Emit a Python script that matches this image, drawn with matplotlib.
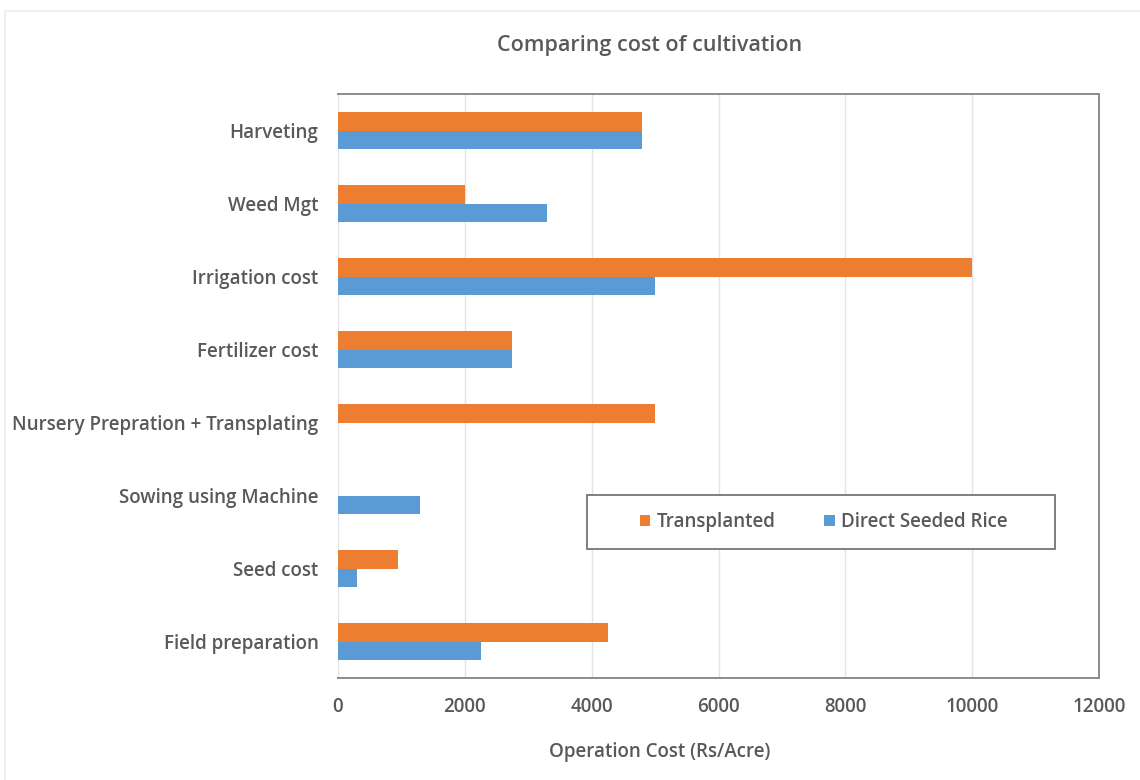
import matplotlib
matplotlib.use("Agg")
import matplotlib.pyplot as plt
import numpy as np
from matplotlib.lines import Line2D
from matplotlib.patches import Rectangle

categories = ["Field preparation", "Seed cost", "Sowing using Machine",
              "Nursery Prepration + Transplating", "Fertilizer cost",
              "Irrigation cost", "Weed Mgt", "Harveting"]
transplanted = [4250, 950, 0, 5000, 2750, 10000, 2000, 4800]
direct_seeded = [2250, 300, 1300, 0, 2750, 5000, 3300, 4800]
series_names = ["Transplanted", "Direct Seeded Rice"]
x_ticks = [0, 2000, 4000, 6000, 8000, 10000, 12000]

ORANGE = "#ED7D31"
BLUE = "#5B9BD5"
TEXT = "#595959"
FS = 13.5

plt.rcParams["font.family"] = ["Open Sans", "DejaVu Sans"]
plt.rcParams["font.weight"] = 600

fig = plt.figure(figsize=(11.4, 7.8), dpi=100)
ax = fig.add_axes([338 / 1140, 1 - 678 / 780, (1099 - 338) / 1140, (678 - 94) / 780])

y = np.arange(len(categories))
h = 0.25
ax.barh(y + h / 2, transplanted, height=h, color=ORANGE, label=series_names[0], zorder=3)
ax.barh(y - h / 2, direct_seeded, height=h, color=BLUE, label=series_names[1], zorder=3)

ax.set_xlim(0, 12000)
ax.set_ylim(-0.5, len(categories) - 0.5)
ax.set_xticks(x_ticks)
ax.set_xticklabels([str(v) for v in x_ticks])
ax.set_yticks(y)
ax.set_yticklabels(categories)
ax.tick_params(axis="both", length=0, labelsize=FS, colors=TEXT)
ax.tick_params(axis="x", pad=14)
ax.tick_params(axis="y", pad=14)

ax.grid(axis="x", color="#e3e3e3", linewidth=1, zorder=0)
ax.set_axisbelow(True)
for side in ["top", "right", "bottom"]:
    ax.spines[side].set_color("#8c8c8c")
    ax.spines[side].set_linewidth(1.4)
ax.spines["left"].set_visible(False)

ax.set_xlabel("Operation Cost (Rs/Acre)", fontsize=FS, fontweight=600, color=TEXT,
              va="center")
ax.xaxis.set_label_coords((660 - 338) / 761, (678 - 752) / 584)
fig.text(650 / 1140, 1 - 46 / 780, "Comparing cost of cultivation", ha="center",
         va="center", fontsize=15.5, fontweight=600, color=TEXT)

# legend box and centred entries
box_x0, box_y0 = 0.327, 0.221
box_w, box_h = 0.615, 0.092
ax.add_patch(Rectangle((box_x0, box_y0), box_w, box_h, transform=ax.transAxes,
                       facecolor="white", edgecolor="#7f7f7f", linewidth=1.4, zorder=4))
leg = ax.legend(loc="center", bbox_to_anchor=(box_x0 + box_w / 2 + 0.004, box_y0 + box_h / 2),
                ncol=2, frameon=False, fontsize=FS, handlelength=0.55,
                handleheight=0.55, handletextpad=0.35, columnspacing=2.6)
leg.set_zorder(5)
for t in leg.get_texts():
    t.set_color(TEXT)

# faint outer chart-area border
fig.add_artist(Line2D([5 / 1140, 1], [1 - 11 / 780, 1 - 11 / 780],
                      transform=fig.transFigure, color="#ececec", linewidth=1.2))
fig.add_artist(Line2D([5 / 1140, 5 / 1140], [0, 1 - 11 / 780],
                      transform=fig.transFigure, color="#ececec", linewidth=1.2))

fig.savefig("out.png", dpi=100, facecolor="white")
